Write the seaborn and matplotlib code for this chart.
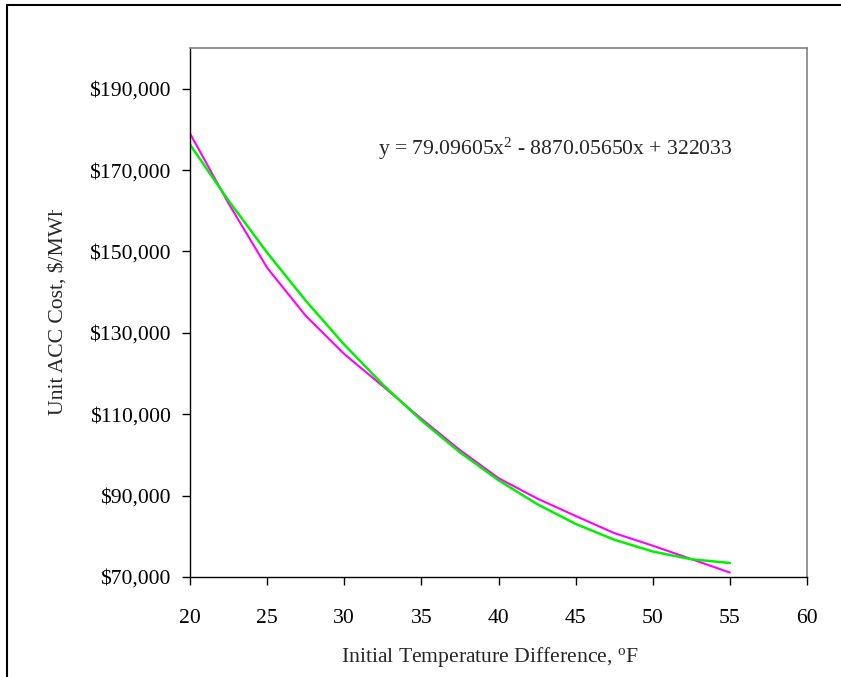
import matplotlib
matplotlib.use("Agg")
import matplotlib.pyplot as plt
from matplotlib.lines import Line2D
from matplotlib.transforms import Bbox, TransformedBbox
import seaborn as sns
import pandas as pd

# Initial temperature difference (°F)
itd = [20, 22.5, 25, 27.5, 30, 32.5, 35, 37.5, 40, 42.5, 45, 47.5, 50, 52.5, 55]
# Unit ACC cost, $/MW (computed cost curve)
unit_cost = [179000, 161800, 146000, 134200, 124800, 116900, 108900, 101200,
             94300, 89300, 85000, 80800, 77700, 74400, 71100]
# Second-order polynomial trendline values at the same temperatures
trend_cost = [176270, 162499, 149717, 137923, 127118, 117302, 108474, 100635,
              93784, 87923, 83050, 79165, 76270, 74364, 73446]
trend_label = "y = 79.09605x$^{2}$ - 8870.05650x + 322033"

x_ticks = [20, 25, 30, 35, 40, 45, 50, 55, 60]
y_ticks = [70000, 90000, 110000, 130000, 150000, 170000, 190000]
y_tick_labels = [f"${v:,}" for v in y_ticks]

df = pd.DataFrame({"itd": itd, "cost": unit_cost, "trend": trend_cost})

sns.set_style("white")
plt.rcParams["font.family"] = ["Liberation Serif", "DejaVu Serif"]
plt.rcParams["mathtext.fontset"] = "custom"
plt.rcParams["mathtext.rm"] = "Liberation Serif"
plt.rcParams["mathtext.it"] = "Liberation Serif:italic"
plt.rcParams["mathtext.bf"] = "Liberation Serif:bold"

FS = 15.6
W, H = 841, 677
fig = plt.figure(figsize=(W / 100, H / 100), dpi=100)
ax = fig.add_axes([190 / W, 1 - 577 / H, (807 - 190) / W, (577 - 48) / H])

sns.lineplot(data=df, x="itd", y="cost", color="#FF00FF", linewidth=1.5, ax=ax)
sns.lineplot(data=df, x="itd", y="trend", color="#00F000", linewidth=1.8, ax=ax)

ax.set_xlim(20, 60)
ax.set_ylim(70000, 200000)
ax.set_xticks(x_ticks, labels=[str(t) for t in x_ticks])
ax.set_yticks(y_ticks, labels=y_tick_labels)

for side in ("left", "bottom"):
    ax.spines[side].set_color("black")
    ax.spines[side].set_linewidth(1.0)
for side in ("top", "right"):
    ax.spines[side].set_color("#808080")
    ax.spines[side].set_linewidth(1.2)

ax.tick_params(axis="both", which="major", direction="out", length=6, width=1.0,
               color="black", labelsize=FS, labelcolor="black")
ax.tick_params(axis="x", pad=17)
ax.tick_params(axis="y", pad=8)
ax.tick_params(left=True, bottom=True)

ax.set_xlabel("Initial Temperature Difference, $^{\\rm o}$F", fontsize=FS)
ax.xaxis.set_label_coords((490 - 190) / 617, -(657 - 577) / 529, transform=ax.transAxes)
ax.xaxis.label.set_va("center")

ax.set_ylabel("Unit ACC Cost, \\$/MWh", fontsize=FS)
ax.yaxis.set_label_coords(-(190 - 58) / 617, (577 - 310) / 529, transform=ax.transAxes)
ax.yaxis.label.set_va("center")
# the y-axis title box cuts off the end of the unit text
ax.yaxis.label.set_clip_box(TransformedBbox(Bbox([[0, 0], [1, 1 - 210 / H]]), fig.transFigure))
ax.yaxis.label.set_clip_on(True)

ax.text(378 / W, 1 - 155 / H, trend_label, transform=fig.transFigure,
        fontsize=FS, ha="left", va="baseline")

# Outer chart frame (clipped at the right and bottom edges)
fig.add_artist(Line2D([7 / W, 7 / W], [0, 1 - 5 / H], transform=fig.transFigure,
                      color="black", linewidth=1.5))
fig.add_artist(Line2D([7 / W, 1], [1 - 5 / H, 1 - 5 / H], transform=fig.transFigure,
                      color="black", linewidth=1.5))

fig.savefig("out.png", dpi=100)
